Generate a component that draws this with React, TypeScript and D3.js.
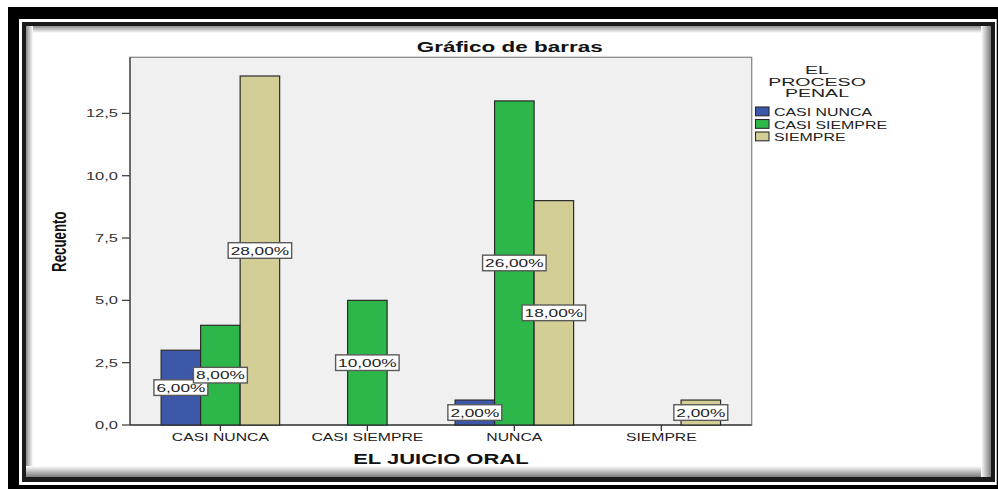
import React from "react";
import * as d3 from "d3";

// chart values
const categories = ["CASI NUNCA", "CASI SIEMPRE", "NUNCA", "SIEMPRE"];
const series = ["CASI NUNCA", "CASI SIEMPRE", "SIEMPRE"];
const casiNunca = [3, 0, 1, 0];
const casiSiempre = [4, 5, 13, 0];
const siempre = [14, 0, 9, 1];
const pctCasiNunca = ["6,00%", "", "2,00%", ""];
const pctCasiSiempre = ["8,00%", "10,00%", "26,00%", ""];
const pctSiempre = ["28,00%", "", "18,00%", "2,00%"];
const yTicks = [0, 2.5, 5, 7.5, 10, 12.5];
const legendTitle = ["EL", "PROCESO", "PENAL"];
const colors = ["#3d57a9", "#2db64a", "#d3cd96"];

const W = 998;
const H = 489;
const FONT = "'Liberation Sans', Arial, sans-serif";
const SX = 1.5; // the picture is stretched sideways

const plot = { left: 130, right: 751.7, top: 57.3, bottom: 425 };

function T(props: any) {
  const { x, y, size, weight, anchor, sx, rotate, fill, children } = props;
  const tr =
    "translate(" + x + "," + y + ") scale(" + (sx || SX) + ",1)" +
    (rotate ? " rotate(" + rotate + ")" : "");
  return (
    <text
      transform={tr}
      fontSize={size}
      fontWeight={weight || "normal"}
      textAnchor={anchor || "start"}
      fontFamily={FONT}
      fill={fill || "#222"}
    >
      {children}
    </text>
  );
}

// rough Arial widths for the label boxes
function textWidth(s: string, size: number) {
  let w = 0;
  for (const c of s) {
    if (c === ",") w += 0.278;
    else if (c === "%") w += 0.889;
    else w += 0.556;
  }
  return w * size * SX;
}

export default function App() {
  const values = [casiNunca, casiSiempre, siempre];
  const pcts = [pctCasiNunca, pctCasiSiempre, pctSiempre];

  const x = d3
    .scaleBand()
    .domain(categories)
    .range([plot.left, plot.right])
    .paddingInner(0)
    .paddingOuter(0.115);
  const xs = d3
    .scaleBand()
    .domain(series)
    .range([0, x.bandwidth()])
    .paddingInner(0)
    .paddingOuter(0.36);
  const y = d3.scaleLinear().domain([0, 14.75]).range([plot.bottom, plot.top]);
  const fmt = (v: number) => d3.format(".1f")(v).replace(".", ",");

  const bars: any[] = [];
  const labels: any[] = [];
  series.forEach((s, si) => {
    categories.forEach((c, ci) => {
      const v = values[si][ci];
      if (!v) return;
      const bx = (x(c) as number) + (xs(s) as number);
      const bw = xs.bandwidth();
      bars.push(
        <rect
          key={s + c}
          x={bx}
          y={y(v)}
          width={bw}
          height={plot.bottom - y(v)}
          fill={colors[si]}
          stroke="#2a2a2a"
          strokeWidth={1.2}
        />
      );
      const txt = pcts[si][ci];
      const tw = textWidth(txt, 11.5);
      const cx = bx + bw / 2;
      const cy = (y(v) + plot.bottom) / 2;
      labels.push(
        <g key={"l" + s + c}>
          <rect
            x={cx - tw / 2 - 2.5}
            y={cy - 7.8}
            width={tw + 5}
            height={15.6}
            fill="#fff"
            stroke="#5a5a5a"
            strokeWidth={1.4}
          />
          <T x={cx - tw / 2} y={cy + 4.2} size={11.5}>
            {txt}
          </T>
        </g>
      );
    });
  });

  return (
    <svg
      width={W}
      height={H}
      style={{ position: "absolute", left: 0, top: 0 }}
      xmlns="http://www.w3.org/2000/svg"
    >
      <defs>
        <linearGradient id="gTop" x1="0" y1="0" x2="0" y2="1">
          <stop offset="0" stopColor="#8c8c8c" />
          <stop offset="1" stopColor="#fff" />
        </linearGradient>
        <linearGradient id="gLeft" x1="0" y1="0" x2="1" y2="0">
          <stop offset="0" stopColor="#8c8c8c" />
          <stop offset="1" stopColor="#fff" />
        </linearGradient>
        <linearGradient id="gBottom" x1="0" y1="0" x2="0" y2="1">
          <stop offset="0" stopColor="#fff" />
          <stop offset="1" stopColor="#7a7a7a" />
        </linearGradient>
        <linearGradient id="gRight" x1="0" y1="0" x2="1" y2="0">
          <stop offset="0" stopColor="#fff" />
          <stop offset="1" stopColor="#7a7a7a" />
        </linearGradient>
      </defs>
      <rect x={0} y={0} width={W} height={H} fill="#fff" />
      {/* frame */}
      <rect x={8} y={7} width={W} height={H} fill="#000" />
      <rect x={19} y={19} width={977.7} height={466} fill="#fff" />
      <rect x={22} y={22} width={973} height={460} fill="#1a1a1a" />
      <rect x={26} y={26} width={965} height={451} fill="#fff" />
      <rect x={26} y={26} width={965} height={7} fill="url(#gTop)" />
      <rect x={26} y={26} width={7} height={451} fill="url(#gLeft)" />
      <rect x={26} y={466} width={965} height={11} fill="url(#gBottom)" />
      <rect x={981} y={26} width={10} height={451} fill="url(#gRight)" />

      <T x={509.7} y={51.5} size={15.5} weight="bold" anchor="middle" sx={1.45} fill="#111">
        Gráfico de barras
      </T>

      {/* plot area */}
      <rect
        x={plot.left}
        y={plot.top}
        width={plot.right - plot.left}
        height={plot.bottom - plot.top}
        fill="#f0f0f0"
        stroke="#8a8a8a"
        strokeWidth={1.3}
      />
      <line x1={plot.left} x2={plot.left} y1={plot.top} y2={plot.bottom} stroke="#444" strokeWidth={1.3} />
      <line x1={plot.left} x2={plot.right} y1={plot.bottom} y2={plot.bottom} stroke="#444" strokeWidth={1.3} />

      {yTicks.map((t) => (
        <g key={"y" + t}>
          <line x1={122} x2={plot.left} y1={y(t)} y2={y(t)} stroke="#444" strokeWidth={1.3} />
          <T x={118} y={y(t) + 4} size={11} anchor="end" fill="#333">
            {fmt(t)}
          </T>
        </g>
      ))}

      {bars}

      {categories.map((c) => {
        const cx = (x(c) as number) + x.bandwidth() / 2;
        return (
          <g key={"x" + c}>
            <line x1={cx} x2={cx} y1={plot.bottom} y2={plot.bottom + 6} stroke="#333" strokeWidth={1.3} />
            <T x={cx} y={441} size={10.5} anchor="middle">
              {c}
            </T>
          </g>
        );
      })}

      {labels}

      <T x={440.9} y={464} size={15.5} weight="bold" anchor="middle" sx={1.42} fill="#111">
        EL JUICIO ORAL
      </T>
      <T x={66} y={241.7} size={13.3} weight="bold" anchor="middle" rotate={-90} fill="#111">
        Recuento
      </T>

      {/* legend */}
      {legendTitle.map((line, i) => (
        <T key={"lt" + i} x={817} y={74 + i * 11.7} size={11.5} sx={1.7} anchor="middle">
          {line}
        </T>
      ))}
      {series.map((s, i) => (
        <g key={"lg" + s}>
          <rect
            x={755.5}
            y={107 + i * 12.5}
            width={13.5}
            height={8.8}
            fill={colors[i]}
            stroke="#2a2a2a"
            strokeWidth={1.1}
          />
          <T x={774} y={116 + i * 12.5} size={10.6}>
            {s}
          </T>
        </g>
      ))}
    </svg>
  );
}
